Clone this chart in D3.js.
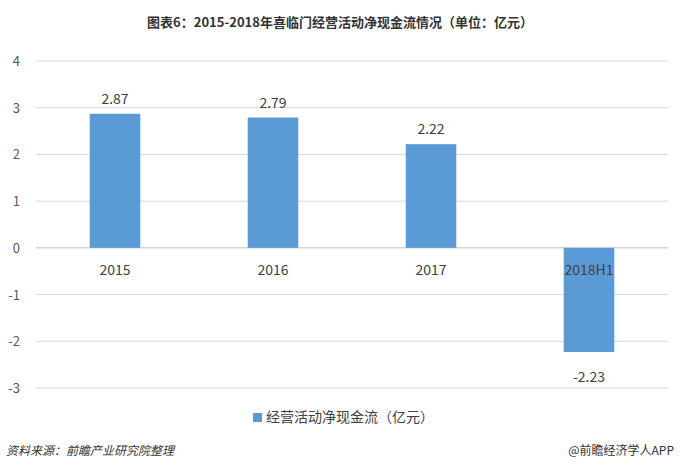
<!DOCTYPE html>
<html><head><meta charset="utf-8">
<script src="https://cdn.jsdelivr.net/npm/d3@7"></script>
<style>body{margin:0;background:#fff}</style></head>
<body><svg id="c" width="680" height="470"></svg>
<script>
const categories=["2015","2016","2017","2018H1"];
const values=[2.87,2.79,2.22,-2.23];
const yTicks=[4,3,2,1,0,-1,-2,-3];
const seriesName="经营活动净现金流（亿元）";
const svg=d3.select("#c");
const font="'Microsoft YaHei','Noto Sans CJK SC',sans-serif";
const x=d3.scaleBand().domain(categories).range([36,668]).paddingInner(0.68).paddingOuter(0.34);
const y=d3.scaleLinear().domain([-3,4]).range([388,61]);
svg.append("text").attr("x",340).attr("y",27).attr("text-anchor","middle").attr("font-family",font).attr("font-weight","bold").attr("font-size",13).attr("fill","#333").text("图表6：2015-2018年喜临门经营活动净现金流情况（单位：亿元）");
svg.selectAll(".g").data(yTicks).enter().append("line").attr("x1",36).attr("x2",668).attr("y1",d=>y(d)).attr("y2",d=>y(d)).attr("stroke",d=>d===0?"#bfbfbf":"#d9d9d9");
svg.selectAll(".yt").data(yTicks).enter().append("text").attr("x",20).attr("y",d=>y(d)+5).attr("text-anchor","end").attr("font-family",font).attr("font-size",13).attr("fill","#595959").text(d=>d);
svg.selectAll(".b").data(values).enter().append("rect").attr("x",(d,i)=>x(categories[i])).attr("width",x.bandwidth()).attr("y",d=>y(Math.max(0,d))).attr("height",d=>Math.abs(y(d)-y(0))).attr("fill","#5B9BD5");
svg.selectAll(".v").data(values).enter().append("text").attr("x",(d,i)=>x(categories[i])+x.bandwidth()/2).attr("y",d=>d>0?y(d)-10:y(d)+30).attr("text-anchor","middle").attr("font-family",font).attr("font-size",14).attr("fill","#404040").text(d=>d.toFixed(2));
svg.selectAll(".c").data(categories).enter().append("text").attr("x",d=>x(d)+x.bandwidth()/2).attr("y",y(0)+27).attr("text-anchor","middle").attr("font-family",font).attr("font-size",14).attr("fill","#404040").text(d=>d);
svg.append("rect").attr("x",253).attr("y",413).attr("width",9).attr("height",9).attr("fill","#5B9BD5");
svg.append("text").attr("x",266).attr("y",422).attr("font-family",font).attr("font-size",14).attr("fill","#404040").text(seriesName);
svg.append("text").attr("x",6).attr("y",455).attr("font-family",font).attr("font-size",12).attr("font-style","italic").attr("fill","#333").text("资料来源：前瞻产业研究院整理");
svg.append("text").attr("x",674).attr("y",455).attr("text-anchor","end").attr("font-family",font).attr("font-size",12).attr("fill","#333").text("@前瞻经济学人APP");
</script></body></html>
